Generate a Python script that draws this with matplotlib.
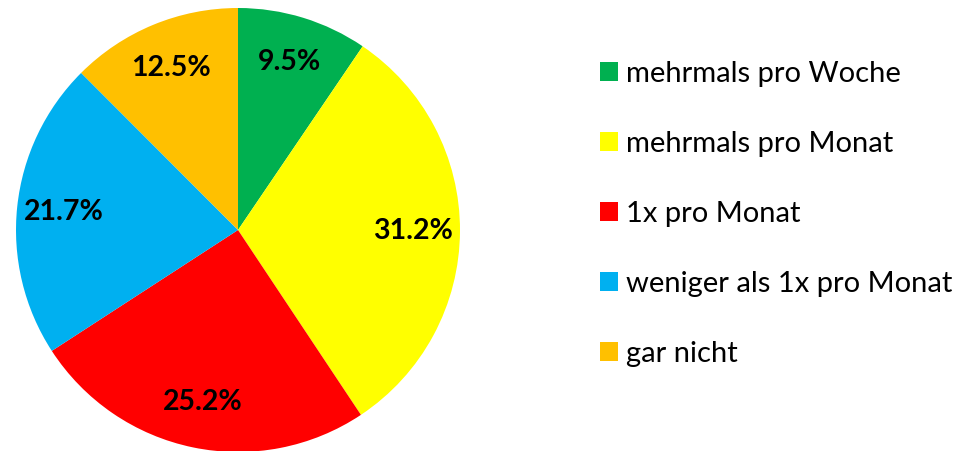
import matplotlib
matplotlib.use("Agg")
import matplotlib.pyplot as plt
from matplotlib.patches import Patch

plt.rcParams['font.family'] = ['Lato', 'DejaVu Sans']

# Antworten und Anteile (in %)
categories = ["mehrmals pro Woche", "mehrmals pro Monat", "1x pro Monat",
              "weniger als 1x pro Monat", "gar nicht"]
shares = [9.5, 31.2, 25.2, 21.7, 12.5]
colors = ["#00B050", "#FFFF00", "#FF0000", "#00B0F0", "#FFC000"]

W, H = 962, 451
fig = plt.figure(figsize=(W / 100, H / 100), dpi=100)

# pie: Mitte bei (238, 230) px, Radius 222 px
r = 222
ax = fig.add_axes([(238 - r) / W, (H - 230 - r) / H, 2 * r / W, 2 * r / H])
wedges, texts, autotexts = ax.pie(
    shares, colors=colors, startangle=90, counterclock=False,
    autopct=lambda p: f"{p:.1f}%", pctdistance=0.79, radius=1,
    textprops=dict(fontsize=20.5, fontweight="bold", color="black"))
ax.set_xlim(-1, 1)
ax.set_ylim(-1, 1)
ax.set_aspect("equal")
ax.axis("off")

handles = [Patch(facecolor=c, edgecolor="none") for c in colors]
fig.legend(handles, categories, loc="center left",
           bbox_to_anchor=(600 / W, 1 - 214 / H), frameon=False,
           fontsize=21, handlelength=0.62, handleheight=0.62,
           handletextpad=0.27, labelspacing=1.51, borderpad=0, borderaxespad=0)

fig.savefig("out.png", dpi=100)
